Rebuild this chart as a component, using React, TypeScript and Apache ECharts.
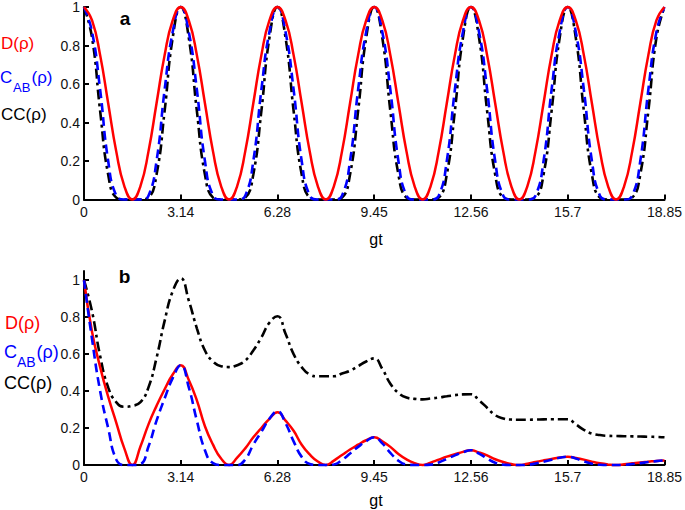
import { useEffect, useRef } from "react";
import * as echarts from "echarts";

// sample grid gt (step pi/12)
const gt = [
  0, 0.262, 0.524, 0.785, 1.047, 1.309, 1.571, 1.833, 2.094, 2.356, 2.618, 2.88,
  3.142, 3.403, 3.665, 3.927, 4.189, 4.451, 4.712, 4.974, 5.236, 5.498, 5.76, 6.021,
  6.283, 6.545, 6.807, 7.069, 7.33, 7.592, 7.854, 8.116, 8.378, 8.639, 8.901, 9.163,
  9.425, 9.687, 9.948, 10.21, 10.472, 10.734, 10.996, 11.257, 11.519, 11.781, 12.043, 12.305,
  12.566, 12.828, 13.09, 13.352, 13.614, 13.875, 14.137, 14.399, 14.661, 14.923, 15.184, 15.446,
  15.708, 15.97, 16.232, 16.493, 16.755, 17.017, 17.279, 17.541, 17.802, 18.064, 18.326, 18.588,
  18.85,
];

const gtTickValues = [0, 3.142, 6.283, 9.425, 12.566, 15.708, 18.85];
const gtTickLabels = ["0", "3.14", "6.28", "9.45", "12.56", "15.7", "18.85"];
const yTickValues = [0, 0.2, 0.4, 0.6, 0.8, 1];

// Panel a
const dA = [
  1, 0.93, 0.75, 0.5, 0.25, 0.07, 0, 0.07, 0.25, 0.5, 0.75, 0.93,
  1, 0.93, 0.75, 0.5, 0.25, 0.07, 0, 0.07, 0.25, 0.5, 0.75, 0.93,
  1, 0.93, 0.75, 0.5, 0.25, 0.07, 0, 0.07, 0.25, 0.5, 0.75, 0.93,
  1, 0.93, 0.75, 0.5, 0.25, 0.07, 0, 0.07, 0.25, 0.5, 0.75, 0.93,
  1, 0.93, 0.75, 0.5, 0.25, 0.07, 0, 0.07, 0.25, 0.5, 0.75, 0.93,
  1, 0.93, 0.75, 0.5, 0.25, 0.07, 0, 0.07, 0.25, 0.5, 0.75, 0.93,
  1,
];
const cabA = [
  1, 0.87, 0.57, 0.2, 0.02, 0, 0, 0, 0.02, 0.2, 0.57, 0.87,
  1, 0.87, 0.57, 0.2, 0.02, 0, 0, 0, 0.02, 0.2, 0.57, 0.87,
  1, 0.87, 0.57, 0.2, 0.02, 0, 0, 0, 0.02, 0.2, 0.57, 0.87,
  1, 0.87, 0.57, 0.2, 0.02, 0, 0, 0, 0.02, 0.2, 0.57, 0.87,
  1, 0.87, 0.57, 0.2, 0.02, 0, 0, 0, 0.02, 0.2, 0.57, 0.87,
  1, 0.87, 0.57, 0.2, 0.02, 0, 0, 0, 0.02, 0.2, 0.57, 0.87,
  1,
];
const ccA = [
  1, 0.84, 0.46, 0.13, 0.01, 0, 0, 0, 0.01, 0.13, 0.46, 0.84,
  1, 0.84, 0.46, 0.13, 0.01, 0, 0, 0, 0.01, 0.13, 0.46, 0.84,
  1, 0.84, 0.46, 0.13, 0.01, 0, 0, 0, 0.01, 0.13, 0.46, 0.84,
  1, 0.84, 0.46, 0.13, 0.01, 0, 0, 0, 0.01, 0.13, 0.46, 0.84,
  1, 0.84, 0.46, 0.13, 0.01, 0, 0, 0, 0.01, 0.13, 0.46, 0.84,
  1, 0.84, 0.46, 0.13, 0.01, 0, 0, 0, 0.01, 0.13, 0.46, 0.84,
  1,
];

// Panel b
const dB = [
  1, 0.72, 0.53, 0.37, 0.23, 0.09,
  0, 0.1, 0.22, 0.32, 0.41, 0.49,
  0.54, 0.46, 0.35, 0.21, 0.11, 0.035,
  0, 0.04, 0.09, 0.15, 0.2, 0.25,
  0.285, 0.24, 0.185, 0.11, 0.057, 0.019,
  0, 0.024, 0.054, 0.084, 0.11, 0.134,
  0.15, 0.128, 0.098, 0.059, 0.03, 0.01,
  0, 0.013, 0.029, 0.045, 0.058, 0.071,
  0.08, 0.068, 0.052, 0.031, 0.016, 0.005,
  0, 0.007, 0.016, 0.025, 0.033, 0.04,
  0.045, 0.038, 0.029, 0.018, 0.009, 0.003,
  0, 0.004, 0.009, 0.014, 0.018, 0.022, 0.025,
];
const cabB = [
  1, 0.68, 0.4, 0.2, 0.03, 0,
  0, 0.005, 0.1, 0.24, 0.36, 0.47,
  0.54, 0.42, 0.24, 0.08, 0.01, 0,
  0, 0, 0.03, 0.11, 0.18, 0.25,
  0.29, 0.226, 0.128, 0.044, 0.006, 0,
  0, 0.003, 0.027, 0.062, 0.098, 0.129,
  0.15, 0.117, 0.066, 0.023, 0.003, 0,
  0, 0.002, 0.014, 0.033, 0.052, 0.069,
  0.08, 0.062, 0.035, 0.012, 0.002, 0,
  0, 0.001, 0.008, 0.018, 0.029, 0.039,
  0.045, 0.035, 0.02, 0.007, 0.001, 0,
  0, 0.001, 0.005, 0.01, 0.016, 0.021, 0.025,
];
const ccB = [
  1, 0.83, 0.59, 0.42, 0.34, 0.315,
  0.32, 0.34, 0.42, 0.58, 0.78, 0.94,
  1.01, 0.89, 0.74, 0.62, 0.56, 0.535,
  0.53, 0.54, 0.565, 0.62, 0.69, 0.77,
  0.805, 0.71, 0.6, 0.53, 0.49, 0.48,
  0.48, 0.48, 0.495, 0.51, 0.535, 0.56,
  0.577, 0.52, 0.44, 0.39, 0.365, 0.358,
  0.355, 0.36, 0.365, 0.372, 0.378, 0.382,
  0.383, 0.35, 0.31, 0.27, 0.252, 0.246,
  0.245, 0.245, 0.246, 0.247, 0.248, 0.248,
  0.248, 0.22, 0.19, 0.17, 0.162, 0.158,
  0.157, 0.156, 0.155, 0.154, 0.153, 0.152, 0.15,
];

const RED = "#ff0000";
const BLUE = "#0000ff";
const BLACK = "#000000";
const FONT = '"Liberation Sans", Arial, Helvetica, sans-serif';

const pairs = (ys: number[]) => gt.map((x, i) => [x, ys[i]]);

const gtLabel = (v: number) => {
  for (let i = 0; i < gtTickValues.length; i++) {
    if (Math.abs(v - gtTickValues[i]) < 0.01) return gtTickLabels[i];
  }
  return "";
};

const makeX = (gridIndex: number) => ({
  type: "value",
  gridIndex,
  min: 0,
  max: 18.85,
  axisLine: { show: true, lineStyle: { color: BLACK, width: 2 } },
  axisTick: {
    show: true,
    inside: true,
    length: 5,
    customValues: gtTickValues,
    lineStyle: { color: BLACK, width: 2 },
  },
  axisLabel: {
    customValues: gtTickValues,
    formatter: (v: number) => gtLabel(v),
    color: "#111",
    fontSize: 14,
    fontFamily: FONT,
    margin: 5,
  },
  splitLine: { show: false },
});

const makeY = (gridIndex: number, max: number) => ({
  type: "value",
  gridIndex,
  min: 0,
  max,
  axisLine: { show: true, lineStyle: { color: BLACK, width: 2 } },
  axisTick: {
    show: true,
    inside: true,
    length: 5,
    customValues: yTickValues,
    lineStyle: { color: BLACK, width: 2 },
  },
  axisLabel: {
    customValues: yTickValues,
    formatter: (v: number) => String(Math.round(v * 10) / 10),
    color: "#111",
    fontSize: 14,
    fontFamily: FONT,
    margin: 4,
  },
  splitLine: { show: false },
});

const line = (
  name: string,
  ys: number[],
  grid: number,
  color: string,
  type: any,
  width: number
) => ({
  type: "line",
  name,
  xAxisIndex: grid,
  yAxisIndex: grid,
  data: pairs(ys),
  showSymbol: false,
  symbol: "none",
  smooth: 0.5,
  clip: false,
  silent: true,
  lineStyle: { color, width, type },
});

const txt = (
  text: string,
  x: number,
  y: number,
  size: number,
  color: string,
  bold = false,
  align = "left"
) => ({
  type: "text",
  x,
  y,
  silent: true,
  style: {
    text,
    fill: color,
    font: `${bold ? "bold " : ""}${size}px ${FONT}`,
    textAlign: align,
    textVerticalAlign: "middle",
  },
});

const DASH = [9, 5];
const DASHDOT = [10, 4, 3, 4];

const option: any = {
  animation: false,
  backgroundColor: "#ffffff",
  grid: [
    { left: 84, top: 4.5, width: 584, height: 195 },
    { left: 84, top: 271, width: 584, height: 194 },
  ],
  xAxis: [makeX(0), makeX(1)],
  yAxis: [makeY(0, 1), makeY(1, 1.05)],
  series: [
    line("CC(ρ) a", ccA, 0, BLACK, DASHDOT, 2.6),
    line("C_AB(ρ) a", cabA, 0, BLUE, DASH, 2.6),
    line("D(ρ) a", dA, 0, RED, "solid", 2.5),
    line("CC(ρ) b", ccB, 1, BLACK, DASHDOT, 2.6),
    line("D(ρ) b", dB, 1, RED, "solid", 2.5),
    line("C_AB(ρ) b", cabB, 1, BLUE, DASH, 2.6),
  ],
  graphic: [
    txt("a", 125, 18, 19, BLACK, true, "center"),
    txt("b", 124.5, 276, 19, BLACK, true, "center"),
    txt("gt", 376, 239, 16, BLACK, false, "center"),
    txt("gt", 376, 500, 16, BLACK, false, "center"),
    // legend a
    txt("D(ρ)", 1, 43, 17, RED),
    txt("C", 0, 77, 17, BLUE),
    txt("AB", 13, 87, 13, BLUE),
    txt("(ρ)", 31.5, 77.5, 17, BLUE),
    txt("CC(ρ)", 1, 114.5, 17, BLACK),
    // legend b
    txt("D(ρ)", 5, 322.5, 18, RED),
    txt("C", 4, 351.5, 18, BLUE),
    txt("AB", 17, 361.5, 14, BLUE),
    txt("(ρ)", 36.5, 352, 18, BLUE),
    txt("CC(ρ)", 4, 383, 18, BLACK),
  ],
};

export default function App() {
  const ref = useRef<HTMLDivElement>(null);
  useEffect(() => {
    if (!ref.current) return;
    const chart = echarts.init(ref.current, null, { renderer: "svg" });
    chart.setOption(option);
    return () => chart.dispose();
  }, []);
  return (
    <div
      ref={ref}
      style={{
        position: "fixed",
        left: 0,
        top: 0,
        width: 685,
        height: 510,
        background: "#fff",
      }}
    />
  );
}
